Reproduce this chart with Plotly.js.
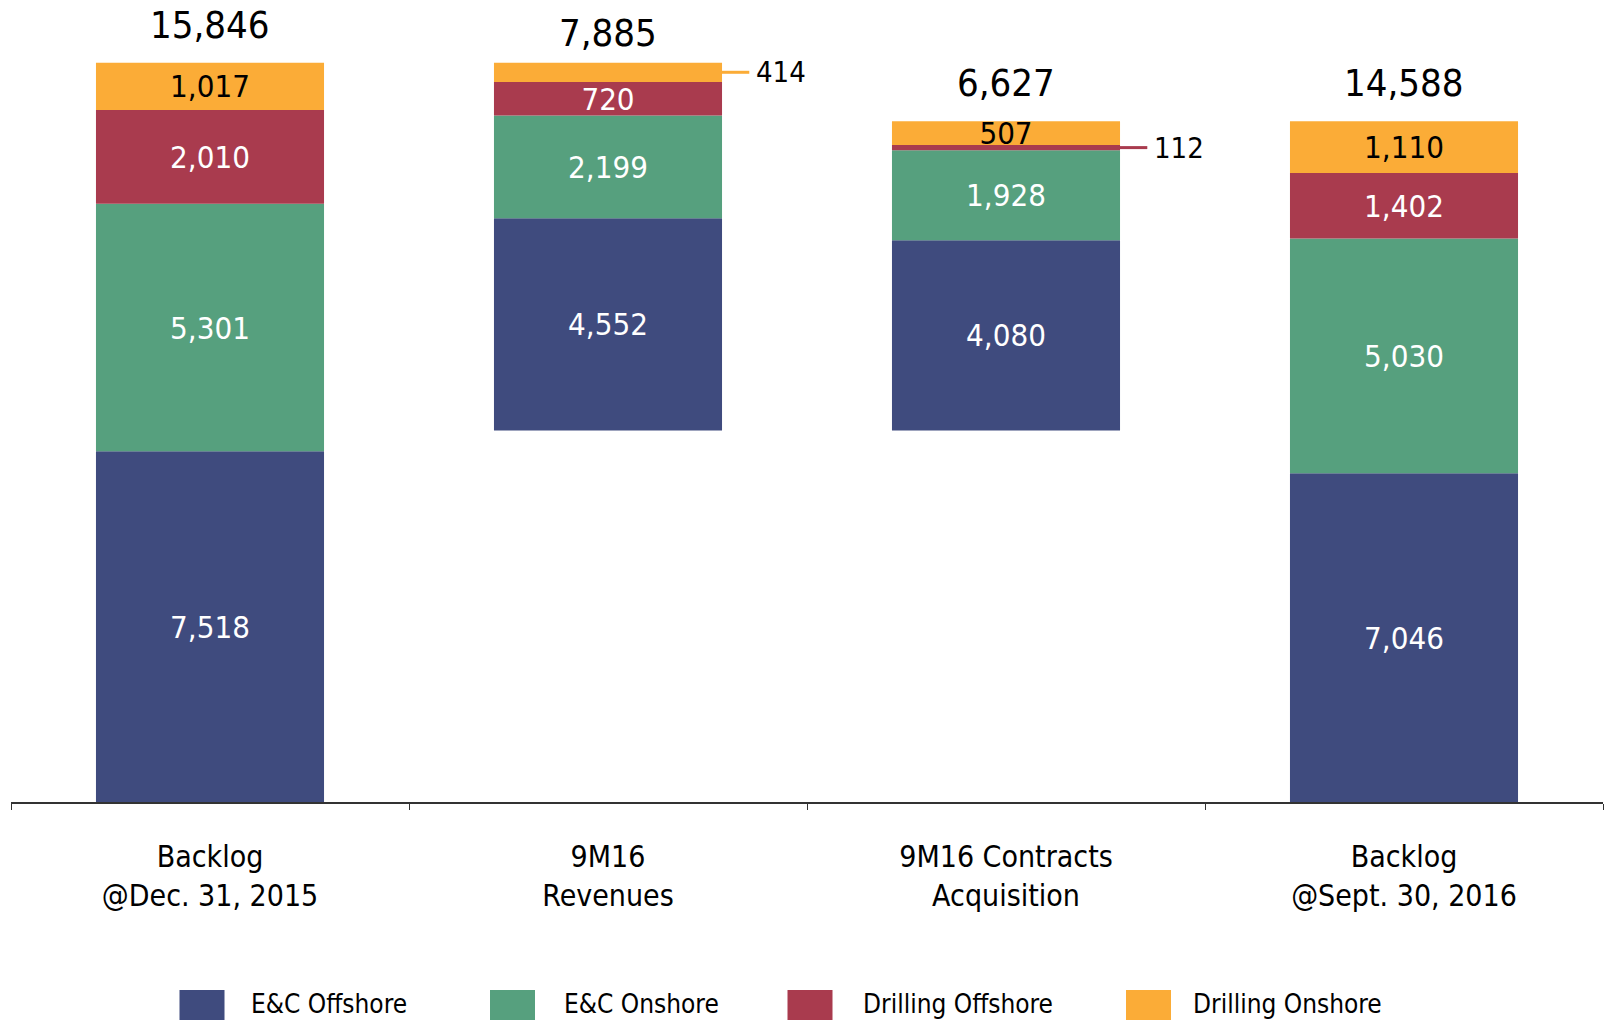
<!DOCTYPE html>
<html>
<head>
<meta charset="utf-8">
<script src="https://cdn.plot.ly/plotly-3.0.1.min.js"></script>
<style>html,body{margin:0;padding:0;background:#fff;}#chart{width:1608px;height:1020px;}</style>
</head>
<body>
<div id="chart"></div>
<script>
// ---- data ----
const categories = ["Backlog<br>@Dec. 31, 2015", "9M16<br>Revenues", "9M16 Contracts<br>Acquisition", "Backlog<br>@Sept. 30, 2016"];
const seriesNames = ["E&C Offshore", "E&C Onshore", "Drilling Offshore", "Drilling Onshore"];
const ecOffshore = [7518, 4552, 4080, 7046];
const ecOnshore = [5301, 2199, 1928, 5030];
const drillingOffshore = [2010, 720, 112, 1402];
const drillingOnshore = [1017, 414, 507, 1110];
const totals = [15846, 7885, 6627, 14588];
const seriesColors = ["#3F4B7E", "#56A07E", "#A93B4E", "#FBAC37"];
const labelColors = ["#FFFFFF", "#FFFFFF", "#FFFFFF", "#000000"];

// ---- styling / layout helpers ----
const FONT = "DejaVu Sans Condensed, DejaVu Sans, sans-serif";
const series = [ecOffshore, ecOnshore, drillingOffshore, drillingOnshore];
// callouts drawn outside the bar: [seriesIndex, categoryIndex]
const callouts = [[3, 1], [2, 2]];
const isCallout = (s, c) => callouts.some(p => p[0] === s && p[1] === c);
const fmt = v => v.toLocaleString('en-US');

// floating waterfall bases: revenues subtract from opening backlog, acquisitions add back
const floatBase = [0, totals[0] - totals[1], totals[0] - totals[1], 0];

const cum = floatBase.slice();
const traces = [];
const segMid = series.map(() => []);
series.forEach((vals, s) => {
  const base = cum.slice();
  vals.forEach((v, c) => { segMid[s][c] = base[c] + v / 2; cum[c] += v; });
  traces.push({
    type: 'bar',
    name: seriesNames[s],
    x: categories,
    y: vals,
    base: base,
    marker: { color: seriesColors[s], line: { width: 0 } },
    text: vals.map((v, c) => isCallout(s, c) ? '' : fmt(v)),
    textposition: 'inside',
    insidetextanchor: 'middle',
    textangle: 0,
    constraintext: 'none',
    textfont: { family: FONT, size: 31, color: labelColors[s] },
    hoverinfo: 'skip',
    showlegend: false
  });
});

const bargap = 0.427;
const half = (1 - bargap) / 2;
const annotations = [];
const shapes = [];
const totalShift = [38, 30, 38, 38];
totals.forEach((t, c) => {
  annotations.push({
    x: c, y: cum[c], xref: 'x', yref: 'y', text: fmt(t), showarrow: false,
    yanchor: 'middle', yshift: totalShift[c],
    font: { family: FONT, size: 38, color: '#000' }
  });
});
callouts.forEach(([s, c]) => {
  const y = segMid[s][c];
  shapes.push({ type: 'line', xref: 'x', yref: 'y', x0: c + half - 0.003, x1: c + 0.355, y0: y, y1: y,
    line: { color: seriesColors[s], width: 3 } });
  annotations.push({ x: c + 0.368, y: y, xref: 'x', yref: 'y', text: fmt(series[s][c]), showarrow: false,
    xanchor: 'left', yanchor: 'middle', font: { family: FONT, size: 29, color: '#000' } });
});

// custom legend (pixel positions converted to paper coords)
const L = 11, R = 5, T = 10, B = 218, W = 1608, H = 1020;
const pw = W - L - R, ph = H - T - B;
const px = x => (x - L) / pw;
const py = y => (H - B - y) / ph;
const legendBoxX = [179.5, 490, 787.5, 1126];
const legendTextX = [249, 562, 861, 1191];
seriesNames.forEach((n, s) => {
  shapes.push({ type: 'rect', xref: 'paper', yref: 'paper', x0: px(legendBoxX[s]), x1: px(legendBoxX[s] + 45),
    y0: py(990), y1: py(1030), fillcolor: seriesColors[s], line: { width: 0 } });
  annotations.push({ xref: 'paper', yref: 'paper', x: px(legendTextX[s]), y: py(1004), text: n.replace('&', '&amp;'),
    showarrow: false, xanchor: 'left', yanchor: 'middle', font: { family: FONT, size: 26, color: '#000' } });
});

const layout = {
  width: W, height: H,
  margin: { l: L, r: R, t: T, b: B },
  paper_bgcolor: '#fff', plot_bgcolor: '#fff',
  barmode: 'overlay', bargap: bargap,
  uniformtext: { mode: 'show', minsize: 31 },
  showlegend: false,
  xaxis: {
    type: 'category', showline: true, linecolor: '#333', linewidth: 2,
    ticks: 'outside', tickson: 'boundaries', ticklen: 6, tickcolor: '#333', tickwidth: 1,
    tickfont: { family: FONT, size: 30, color: '#000' }, ticklabelstandoff: 27,
    showgrid: false, zeroline: false, fixedrange: true
  },
  yaxis: { range: [0, 16974], visible: false, showgrid: false, zeroline: false, fixedrange: true },
  annotations: annotations,
  shapes: shapes,
  font: { family: FONT }
};

Plotly.newPlot('chart', traces, layout, { displayModeBar: false, staticPlot: true });
</script>
</body>
</html>
